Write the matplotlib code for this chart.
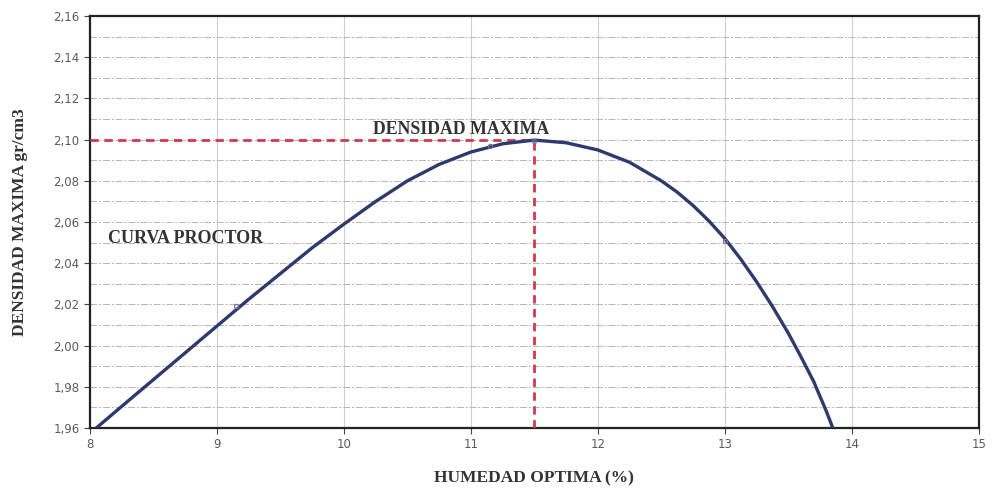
import numpy as np
import matplotlib
matplotlib.use("Agg")
import matplotlib.pyplot as plt
from matplotlib.ticker import MultipleLocator

# curve (humedad %, densidad gr/cm3)
humedad = [8.05, 8.25, 8.5, 8.75, 9.0, 9.25, 9.5, 9.75, 10.0, 10.25, 10.5, 10.75,
           11.0, 11.25, 11.5, 11.75, 12.0, 12.25, 12.5, 12.625, 12.75, 12.875, 13.0,
           13.125, 13.25, 13.375, 13.5, 13.6, 13.7, 13.8, 13.85]
densidad = [1.9600, 1.9705, 1.9835, 1.9965, 2.0095, 2.0225, 2.0350, 2.0475, 2.0590,
            2.0700, 2.0800, 2.0880, 2.0940, 2.0980, 2.0998, 2.0985, 2.0950, 2.0890,
            2.0800, 2.0745, 2.0680, 2.0605, 2.0520, 2.0420, 2.0310, 2.0190, 2.0060,
            1.9945, 1.9825, 1.9680, 1.9600]

# ensayo points
pts_x = [9.15, 11.15, 11.5, 13.0]
pts_y = [2.019, 2.097, 2.0995, 2.051]

hum_opt = 11.5
dens_max = 2.10

x_ticks = [8, 9, 10, 11, 12, 13, 14, 15]
y_ticks = [1.96, 1.98, 2.00, 2.02, 2.04, 2.06, 2.08, 2.10, 2.12, 2.14, 2.16]
y_labels = ["1,96", "1,98", "2,00", "2,02", "2,04", "2,06", "2,08", "2,10", "2,12", "2,14", "2,16"]

fig = plt.figure(figsize=(9.92, 4.88), dpi=100)
ax = fig.add_axes([0.0907, 0.123, 0.896, 0.844])

ax.set_xlim(8, 15)
ax.set_ylim(1.96, 2.16)
ax.set_xticks(x_ticks)
ax.set_xticklabels([str(v) for v in x_ticks])
ax.set_yticks(y_ticks)
ax.set_yticklabels(y_labels)
ax.yaxis.set_minor_locator(MultipleLocator(0.01))

ax.grid(True, which="major", axis="x", color="#cfcfcf", lw=0.8)
ax.grid(True, which="both", axis="y", color="#b4b4b4", lw=0.7, ls=(0, (7, 2, 2, 2)))
ax.set_axisbelow(True)

ax.tick_params(axis="both", which="major", labelsize=8.5, labelcolor="#5a5a5a", length=4, color="#444444")
ax.tick_params(axis="y", which="minor", length=0)
for s in ax.spines.values():
    s.set_linewidth(1.6)
    s.set_color("#222222")

# dashed red guide lines to max density
ax.plot([8, hum_opt], [dens_max, dens_max], color="#d2384f", lw=2, ls=(0, (3, 2)), zorder=3)
ax.plot([hum_opt, hum_opt], [1.96, dens_max], color="#d2384f", lw=2, ls=(0, (3, 2)), zorder=3)

ax.plot(humedad, densidad, color="#2e3a6e", lw=2.4, zorder=4,
        solid_capstyle="round", solid_joinstyle="round")
ax.plot(pts_x, pts_y, ls="none", marker="o", ms=3, mfc="none", mec="#7a6a9a", mew=0.9, zorder=5)

serif = ["Liberation Serif", "DejaVu Serif"]
ax.text(10.92, 2.101, "DENSIDAD MAXIMA", family=serif, weight="bold", fontsize=12.8,
        color="#333333", ha="center", va="bottom")
ax.text(8.14, 2.052, "CURVA PROCTOR", family=serif, weight="bold", fontsize=13,
        color="#333333", ha="left", va="center")

ax.set_xlabel("HUMEDAD OPTIMA (%)", family=serif, weight="bold", fontsize=12.5, color="#333333", labelpad=14)
ax.set_ylabel("DENSIDAD MAXIMA gr/cm3", family=serif, weight="bold", fontsize=12.5, color="#333333", labelpad=18)

fig.savefig("out.png", dpi=100, facecolor="white")
